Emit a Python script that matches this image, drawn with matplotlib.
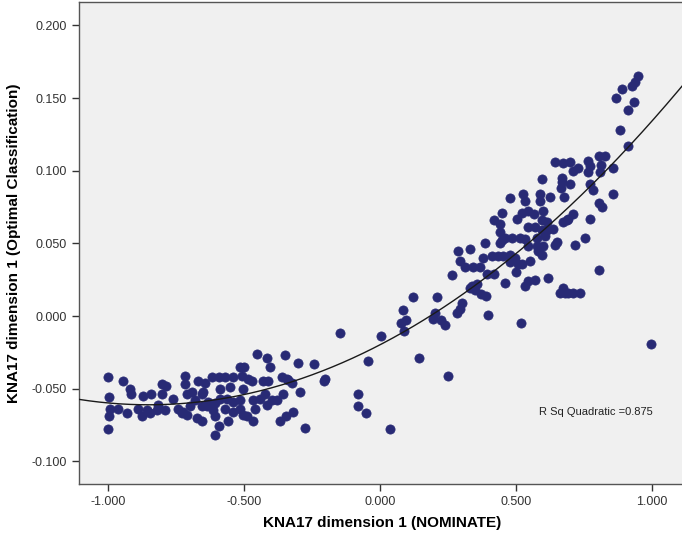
import matplotlib.pyplot as plt
import numpy as np

# NOMINATE (x) vs Optimal Classification (y), dimension 1
nominate = [
    -1.000, -0.944, -0.919, -0.915, -0.996, -0.993, -0.995, -0.999, -0.962, -0.931,
    -0.889, -0.876, -0.870, -0.842, -0.858, -0.846, -0.821, -0.815, -0.803, -0.787,
    -0.803, -0.790, -0.760, -0.742, -0.729, -0.719, -0.717, -0.711, -0.692, -0.668,
    -0.680, -0.699, -0.674, -0.656, -0.656, -0.723, -0.711, -0.631,
    -0.453, -0.417, -0.404, -0.349, -0.303, -0.515, -0.499, -0.619, -0.594, -0.570,
    -0.539, -0.508, -0.484, -0.472, -0.429, -0.411, -0.361, -0.337, -0.325, -0.294,
    -0.643, -0.650, -0.588, -0.551, -0.503, -0.588, -0.564, -0.607, -0.539, -0.515,
    -0.466, -0.441, -0.423, -0.398, -0.380, -0.356, -0.417, -0.460, -0.515, -0.539,
    -0.570, -0.613, -0.607, -0.558, -0.503, -0.466, -0.490, -0.637, -0.656, -0.594,
    -0.607, -0.368, -0.346, -0.319, -0.276, -0.343, -0.242, -0.202, -0.208,
    -0.147, 0.003, 0.086, 0.076, 0.096, 0.088, 0.122, 0.202, 0.194, 0.223,
    0.239, -0.043, 0.144, 0.249, -0.083, -0.083, -0.051, 0.037, 0.210,
    0.264, 0.282, 0.294, 0.300, 0.331, 0.337, 0.355, 0.349, 0.370, 0.390,
    0.398, 0.392, 0.417, 0.460, 0.500, 0.517, 0.533, 0.545, 0.570, 0.619,
    0.521, 0.551, 0.292, 0.288, 0.313, 0.343, 0.368, 0.380, 0.411, 0.435,
    0.453, 0.478, 0.478, 0.496, 0.508, 0.331, 0.386, 0.441, 0.447, 0.460,
    0.484, 0.515, 0.533, 0.576, 0.545, 0.576, 0.600, 0.582, 0.594, 0.607,
    0.613, 0.594, 0.441, 0.439, 0.419, 0.447, 0.478, 0.502, 0.521, 0.545,
    0.564, 0.545, 0.570, 0.594, 0.613, 0.598, 0.525, 0.533, 0.588, 0.588,
    0.625, 0.594, 0.637, 0.650, 0.643, 0.717, 0.754, 0.686, 0.674, 0.692,
    0.711, 0.772, 0.668, 0.699, 0.665, 0.677, 0.643, 0.674, 0.699, 0.711,
    0.729, 0.766, 0.772, 0.766, 0.803, 0.827, 0.811, 0.809, 0.858, 0.668,
    0.772, 0.784, 0.856, 0.806, 0.815, 0.806, 0.868, 0.889, 0.913, 0.935,
    0.925, 0.938, 0.950, 0.882, 0.913, 0.995, 0.662, 0.674, 0.692, 0.711,
    0.735, 0.681,
]
optimal = [
    -0.042, -0.045, -0.050, -0.054, -0.056, -0.064, -0.069, -0.078, -0.064, -0.067,
    -0.064, -0.069, -0.055, -0.054, -0.065, -0.067, -0.065, -0.061, -0.047, -0.048,
    -0.054, -0.065, -0.057, -0.064, -0.067, -0.041, -0.047, -0.054, -0.052, -0.045,
    -0.058, -0.062, -0.070, -0.054, -0.062, -0.066, -0.068, -0.059,
    -0.026, -0.029, -0.035, -0.027, -0.032, -0.035, -0.035, -0.042, -0.042, -0.042,
    -0.042, -0.041, -0.043, -0.045, -0.045, -0.045, -0.042, -0.044, -0.046, -0.052,
    -0.046, -0.052, -0.050, -0.049, -0.050, -0.057, -0.057, -0.060, -0.059, -0.058,
    -0.058, -0.057, -0.054, -0.058, -0.058, -0.054, -0.061, -0.064, -0.064, -0.066,
    -0.064, -0.065, -0.069, -0.072, -0.068, -0.072, -0.069, -0.062, -0.072, -0.076,
    -0.082, -0.072, -0.069, -0.066, -0.077, -0.043, -0.033, -0.043, -0.045,
    -0.012, -0.014, 0.004, -0.005, -0.003, -0.010, 0.013, 0.002, -0.002, -0.003,
    -0.006, -0.031, -0.029, -0.041, -0.054, -0.062, -0.067, -0.078, 0.013,
    0.028, 0.002, 0.005, 0.009, 0.019, 0.021, 0.022, 0.018, 0.015, 0.014,
    0.001, 0.029, 0.029, 0.023, 0.030, -0.005, 0.021, 0.024, 0.025, 0.026,
    0.036, 0.038, 0.038, 0.045, 0.034, 0.034, 0.034, 0.040, 0.041, 0.041,
    0.041, 0.042, 0.037, 0.040, 0.036, 0.046, 0.050, 0.050, 0.052, 0.054,
    0.054, 0.054, 0.053, 0.054, 0.048, 0.048, 0.048, 0.045, 0.042, 0.055,
    0.059, 0.059, 0.058, 0.063, 0.066, 0.071, 0.081, 0.067, 0.071, 0.072,
    0.070, 0.061, 0.061, 0.066, 0.065, 0.072, 0.084, 0.079, 0.084, 0.079,
    0.082, 0.094, 0.060, 0.051, 0.049, 0.049, 0.054, 0.066, 0.065, 0.067,
    0.070, 0.067, 0.092, 0.091, 0.088, 0.082, 0.106, 0.105, 0.106, 0.100,
    0.102, 0.107, 0.103, 0.099, 0.110, 0.110, 0.104, 0.099, 0.102, 0.095,
    0.091, 0.087, 0.084, 0.078, 0.075, 0.032, 0.150, 0.156, 0.142, 0.147,
    0.158, 0.161, 0.165, 0.128, 0.117, -0.019, 0.016, 0.019, 0.016, 0.016,
    0.016, 0.016,
]
r_sq_label = "R Sq Quadratic =0.875"

x = np.array(nominate)
y = np.array(optimal)
coef = np.polyfit(x, y, 2)

plt.rcParams['font.family'] = ['Liberation Sans', 'DejaVu Sans']

fig = plt.figure(figsize=(6.82, 5.37), dpi=100)
ax = fig.add_axes([79 / 682, 53 / 537, 606 / 682, 482 / 537])
ax.set_facecolor('#f0f0f0')

ax.scatter(x, y, s=44, color='#282a75', edgecolors='#282a75', linewidths=0.5, zorder=3)

xs = np.linspace(-1.107, 1.12, 300)
ax.plot(xs, np.polyval(coef, xs), color='#1a1a1a', lw=1.0, zorder=4)

ax.set_xlim(-1.107, 1.121)
ax.set_ylim(-0.1156, 0.2161)
ax.set_xticks([-1.0, -0.5, 0.0, 0.5, 1.0])
ax.set_yticks([-0.1, -0.05, 0.0, 0.05, 0.1, 0.15, 0.2])
ax.xaxis.set_major_formatter(lambda v, pos: f'{v:.3f}')
ax.yaxis.set_major_formatter(lambda v, pos: f'{v:.3f}')
ax.tick_params(labelsize=9, colors='#333333', length=5, width=1, direction='out')

for s in ax.spines.values():
    s.set_color('#555555')
    s.set_linewidth(1.0)
ax.spines['right'].set_visible(False)

ax.set_xlabel('KNA17 dimension 1 (NOMINATE)', fontsize=11, fontweight='bold', labelpad=6)
ax.set_ylabel('KNA17 dimension 1 (Optimal Classification)', fontsize=11, fontweight='bold', labelpad=8)

ax.text(0.585, -0.066, r_sq_label, fontsize=8, va='center', ha='left', color='#222222')

fig.savefig('out.png', dpi=100)
